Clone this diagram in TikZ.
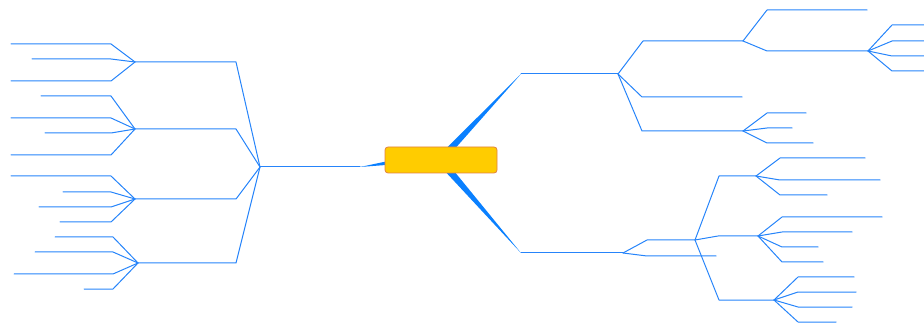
\documentclass[tikz,border=0pt]{standalone}
\usetikzlibrary{shapes.misc}
\definecolor{linkblue}{RGB}{38,132,250}
\definecolor{trunkblue}{RGB}{10,128,255}
\definecolor{rootfill}{RGB}{255,204,0}
\definecolor{rootedge}{RGB}{224,128,64}
\tikzset{
  link/.style={draw=linkblue, line width=1pt, line join=round, line cap=round},
  trunk/.style={fill=trunkblue, draw=none},
  rootbox/.style={draw=rootedge, fill=rootfill, line width=0.8pt, rounded corners=3pt,
    minimum width=112pt, minimum height=26pt, inner sep=0pt},
}
% corner-and-run connector: from hub #2 up/down to corner (#3,#4), then along to x=#5
\newcommand\twig[5]{%
  \coordinate (#1c) at (#3,#4);
  \coordinate (#1) at (#5,#4);
  \draw[link] (#2) -- (#1c) -- (#1);}
\begin{document}
\begin{tikzpicture}[x=1pt,y=-1pt]
\useasboundingbox (0,0) rectangle (924,323);

% hubs next to the central topic
\coordinate (upTip) at (521,74);
\coordinate (lowTip) at (521,253);
\coordinate (leftStub) at (360,167);
\coordinate (L) at (260,167);
\coordinate (R1h) at (618,74);
\coordinate (R2h) at (623,253);

% tapered trunks
\fill[trunk] (upTip) -- (434.5,160) -- (445,160) -- cycle;
\fill[trunk] (lowTip) -- (434.5,160) -- (445,160) -- cycle;
\fill[trunk] (leftStub) -- (386,161.5) -- (386,165) -- cycle;

\node[rootbox] (root) at (441,160) {};

% ---- left side ----
\draw[link] (L) -- (leftStub);
\twig{L1}{L}{236}{62}{135}
\twig{L1a}{L1}{111}{44}{11}
\twig{L1b}{L1}{111}{59}{32}
\twig{L1c}{L1}{111}{81}{11}

\twig{L2}{L}{236}{129}{135}
\twig{L2a}{L2}{111}{96}{41}
\twig{L2b}{L2}{111}{118}{11}
\twig{L2c}{L2}{111}{133}{45}
\twig{L2d}{L2}{111}{155}{11}

\twig{L3}{L}{236}{199}{135}
\twig{L3a}{L3}{111}{176}{11}
\twig{L3b}{L3}{111}{192}{63}
\twig{L3c}{L3}{111}{207}{39}
\twig{L3d}{L3}{111}{222}{60}

\twig{L4}{L}{236}{263}{138}
\twig{L4a}{L4}{113}{237}{55}
\twig{L4b}{L4}{113}{252}{35}
\twig{L4c}{L4}{113}{274}{14}
\twig{L4d}{L4}{113}{289}{84}

% ---- upper right ----
\draw[link] (upTip) -- (R1h);
\twig{Ra}{R1h}{643}{41}{743}
\twig{Raa}{Ra}{767}{10}{867}
\twig{Rab}{Ra}{767}{51}{868}
\twig{Rab1}{Rab}{892}{25}{924}
\twig{Rab2}{Rab}{892}{41}{924}
\twig{Rab3}{Rab}{892}{56}{924}
\twig{Rab4}{Rab}{892}{71}{924}
\twig{Rb}{R1h}{642}{97}{742}
\twig{Rc}{R1h}{642}{131}{743}
\twig{Rc1}{Rc}{767}{113}{806}
\twig{Rc2}{Rc}{767}{128}{792}
\twig{Rc3}{Rc}{767}{143}{813}

% ---- lower right ----
\draw[link] (lowTip) -- (R2h);
\twig{Rd}{R2h}{647}{240}{695}
\twig{Re}{R2h}{647}{256}{716}

\twig{Rf}{Rd}{719}{176}{756}
\twig{Rf1}{Rf}{780}{158}{865}
\twig{Rf2}{Rf}{780}{180}{880}
\twig{Rf3}{Rf}{780}{195}{827}

\twig{Rg}{Rd}{718}{236}{758}
\twig{Rg1}{Rg}{782}{217}{882}
\twig{Rg2}{Rg}{782}{232}{852}
\twig{Rg3}{Rg}{782}{247}{818}
\twig{Rg4}{Rg}{782}{262}{823}

\twig{Rh}{Rd}{719}{300}{774}
\twig{Rh1}{Rh}{798}{277}{854}
\twig{Rh2}{Rh}{798}{292}{856}
\twig{Rh3}{Rh}{798}{307}{852}
\twig{Rh4}{Rh}{798}{322}{836}
\end{tikzpicture}
\end{document}
